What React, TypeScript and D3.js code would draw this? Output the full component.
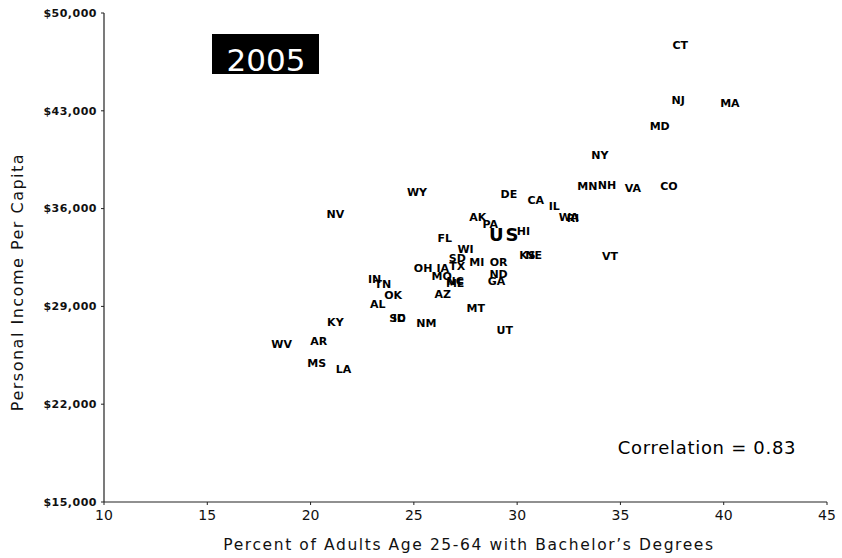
import * as d3 from 'd3'

const states = ['CT', 'NJ', 'MA', 'MD', 'NY', 'MN', 'NH', 'VA', 'CO', 'DE', 'CA', 'IL', 'WA', 'RI', 'VT', 'NV', 'WY', 'AK', 'PA', 'HI', 'FL', 'WI', 'SD', 'MI', 'OR', 'KS', 'NE', 'OH', 'IA', 'TX', 'MO', 'NC', 'ME', 'ND', 'GA', 'AZ', 'MT', 'UT', 'IN', 'TN', 'OK', 'AL', 'KY', 'SC', 'ID', 'NM', 'WV', 'AR', 'MS', 'LA']
const bachelors = [37.9, 37.8, 40.3, 36.9, 34.0, 33.4, 34.35, 35.6, 37.35, 29.6, 30.9, 31.8, 32.5, 32.7, 34.5, 21.2, 25.15, 28.1, 28.7, 30.3, 26.5, 27.5, 27.1, 28.05, 29.1, 30.5, 30.8, 25.45, 26.4, 27.1, 26.35, 27.0, 27.0, 29.1, 29.0, 26.4, 28.0, 29.4, 23.1, 23.5, 24.0, 23.25, 21.2, 24.2, 24.3, 25.6, 18.6, 20.4, 20.3, 21.6]
const income = [47700, 43800, 43560, 41900, 39840, 37620, 37690, 37480, 37620, 37050, 36620, 36190, 35400, 35330, 32610, 35620, 37190, 35400, 34900, 34400, 33900, 33110, 32470, 32180, 32180, 32680, 32680, 31750, 31750, 31890, 31180, 30820, 30680, 31320, 30820, 29890, 28890, 27310, 30960, 30600, 29820, 29170, 27880, 28170, 28170, 27810, 26310, 26520, 24950, 24520]
const usBachelors = 29.4
const usIncome = 34180

const xTicks = [10, 15, 20, 25, 30, 35, 40, 45]
const yTicks = [15000, 22000, 29000, 36000, 43000, 50000]

const W = 842
const H = 558
const margin = { left: 104, right: 15, top: 13, bottom: 56 }

export default function App() {
  const x = d3.scaleLinear().domain([10, 45]).range([margin.left, W - margin.right])
  const y = d3.scaleLinear().domain([15000, 50000]).range([H - margin.bottom, margin.top])
  const fmt = d3.format(',')
  const font = 'DejaVu Sans, Verdana, sans-serif'
  const x0 = x(10)
  const y0 = y(15000)

  return (
    <svg width={W} height={H} style={{ position: 'absolute', left: 0, top: 0, background: '#fff' }} fontFamily={font}>
      {/* axes */}
      <line x1={x0} x2={x0} y1={y(50000)} y2={y0} stroke="#222" strokeWidth={1.2} />
      <line x1={x0} x2={x(45)} y1={y0} y2={y0} stroke="#222" strokeWidth={1.2} />
      {yTicks.map(t => (
        <g key={t}>
          <line x1={x0 - 3} x2={x0} y1={y(t)} y2={y(t)} stroke="#222" />
          <text x={x0 - 7} y={y(t)} dy="0.35em" textAnchor="end" fontSize={11} fontWeight="bold" letterSpacing={0.5} fill="#111">
            {'$' + fmt(t)}
          </text>
        </g>
      ))}
      {xTicks.map(t => (
        <g key={t}>
          <line x1={x(t)} x2={x(t)} y1={y0} y2={y0 + 3} stroke="#222" />
          <text x={x(t)} y={y0 + 18} textAnchor="middle" fontSize={14} fill="#111">{t}</text>
        </g>
      ))}
      <text x={469} y={550} textAnchor="middle" fontSize={15.5} letterSpacing={1.6} fill="#111">
        Percent of Adults Age 25-64 with Bachelor’s Degrees
      </text>
      <text transform="translate(23,282) rotate(-90)" textAnchor="middle" fontSize={16} letterSpacing={1.5} fill="#111">
        Personal Income Per Capita
      </text>

      {/* year badge */}
      <rect x={212} y={34} width={107} height={40} fill="#000" />
      <text x={266} y={71} textAnchor="middle" fontSize={31} fill="#fff">2005</text>

      {/* state labels */}
      {states.map((s, i) => (
        <text key={s} x={x(bachelors[i])} y={y(income[i])} dy="0.36em" textAnchor="middle"
          fontSize={11} fontWeight="bold" fill="#000">
          {s}
        </text>
      ))}
      <text x={x(usBachelors)} y={y(usIncome)} dy="0.36em" textAnchor="middle" fontSize={18} fontWeight="bold" letterSpacing={2} fill="#000">
        US
      </text>

      <text x={707} y={454} textAnchor="middle" fontSize={18} letterSpacing={0.7} fill="#000">Correlation = 0.83</text>
    </svg>
  )
}
